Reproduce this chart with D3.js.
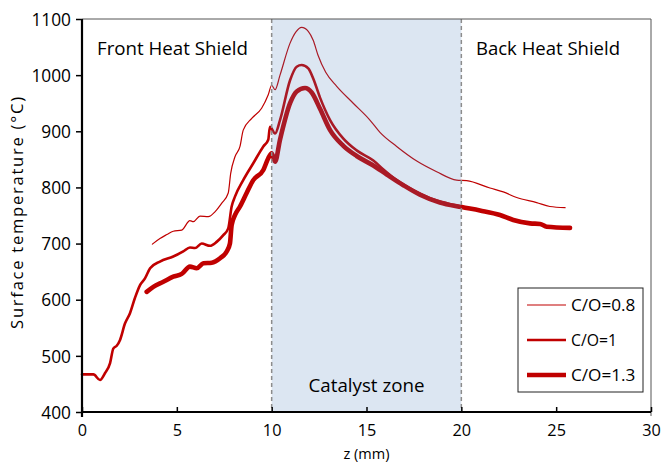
<!DOCTYPE html>
<html><head><meta charset="utf-8">
<script src="https://cdn.jsdelivr.net/npm/d3@7"></script>
<style>body{margin:0;background:#fff}svg{display:block}text{font-family:"Open Sans",Lato,sans-serif;fill:#000}</style>
</head><body><svg id="c" width="661" height="463"></svg>
<script>
const seriesNames = ["C/O=0.8", "C/O=1", "C/O=1.3"];
const s08z = [3.71,4.11,4.47,4.81,5.26,5.69,5.87,6.22,6.66,7.02,7.37,7.71,7.84,8.07,8.33,8.50,8.95,9.47,9.82,10.0,10.18,10.44,10.97,11.28,11.58,11.93,12.19,12.45,12.85,13.43,14.30,15.18,15.71,16.59,17.65,18.70,19.75,20.28,21.51,22.21,22.92,23.97,24.67,25.47];
const s08T = [699,709,716,722,724,741,739,749,748,757,772,790,825,855,873,902,923,941,965,982,974,1000,1057,1077,1085,1078,1062,1035,1005,980,950,920,898,873,847,828,813,812,799,792,782,773,766,764];
const s10z = [0,0.6,0.95,1.21,1.48,1.65,1.83,2.0,2.27,2.53,2.79,3.06,3.32,3.59,4.11,4.81,5.34,5.69,5.96,6.31,6.75,7.10,7.45,7.71,7.89,8.07,8.50,9.03,9.56,9.82,9.91,10.18,10.44,10.97,11.32,11.58,11.93,12.19,12.55,13.08,13.78,14.48,15.36,15.89,16.59,17.47,18.35,19.23,20.02];
const s10T = [467,467,457,469,487,513,518,528,558,576,603,626,638,656,668,677,686,693,692,700,696,703,715,727,766,784,813,843,873,885,908,896,920,991,1015,1018,1012,994,960,920,887,866,848,832,813,795,781,772,766];
const s13z = [3.41,3.76,4.29,4.81,5.26,5.69,6.05,6.40,6.84,7.28,7.63,7.80,7.89,8.07,8.33,8.68,9.03,9.56,9.82,10.0,10.18,10.44,10.97,11.32,11.76,12.11,12.55,13.08,13.78,14.48,15.36,16.07,16.94,17.82,18.87,20.02,20.98,22.04,22.74,23.62,24.15,24.5,25.73];
const s13T = [614,623,632,641,646,659,656,665,666,674,686,700,733,751,766,790,813,831,852,861,846,885,950,971,977,969,940,902,874,856,839,823,804,787,773,765,759,751,742,736,735,730,728];
const xTicks = [0,5,10,15,20,25,30];
const yTicks = [400,500,600,700,800,900,1000,1100];
const zoneLabels = ["Front Heat Shield","Back Heat Shield","Catalyst zone"];
const catalystZone = [10,20];

const svg = d3.select("#c");
const L=82,R=651,T=19,B=412;
const x = d3.scaleLinear().domain([0,30]).range([L,R]);
const y = d3.scaleLinear().domain([400,1100]).range([B,T]);
const red = "#c00000";
function fit(sel, target){
  const base = 16; sel.style("font-size", base+"px");
  const w = sel.node().getComputedTextLength();
  sel.style("font-size", (base*target/w).toFixed(2)+"px");
  return sel;
}
function spread(sel, size, target){
  sel.style("font-size", size+"px");
  const w = sel.node().getComputedTextLength();
  const n = sel.text().length;
  sel.style("letter-spacing", ((target-w)/(n-1)).toFixed(2)+"px");
  return sel;
}
const series = [
  {name:seriesNames[0], z:s08z, t:s08T, w:1.2},
  {name:seriesNames[1], z:s10z, t:s10T, w:2.6},
  {name:seriesNames[2], z:s13z, t:s13T, w:4.6}
];
const line = d3.line().x(d=>x(d[0])).y(d=>y(d[1])).curve(d3.curveMonotoneX);
series.forEach(s=>{
  svg.append("path").datum(s.z.map((v,i)=>[v,s.t[i]]))
    .attr("d",line).attr("fill","none").attr("stroke",red)
    .attr("stroke-width",s.w).attr("stroke-linejoin","round").attr("stroke-linecap","round");
});
svg.append("rect").attr("x",x(catalystZone[0])).attr("y",T)
  .attr("width",x(catalystZone[1])-x(catalystZone[0])).attr("height",B-T)
  .attr("fill","#4f81bd").attr("fill-opacity",0.2);
catalystZone.forEach(v=>{
  svg.append("line").attr("x1",x(v)).attr("x2",x(v)).attr("y1",T).attr("y2",B)
    .attr("stroke","#8c8c8c").attr("stroke-width",1.5).attr("stroke-dasharray","4,3");
});
svg.append("line").attr("x1",L).attr("x2",R).attr("y1",T).attr("y2",T).attr("stroke","#555").attr("stroke-width",1);
svg.append("line").attr("x1",R).attr("x2",R).attr("y1",T).attr("y2",B+4).attr("stroke","#555").attr("stroke-width",1);
const yAx = svg.append("g").attr("transform",`translate(${L},0)`)
  .call(d3.axisLeft(y).tickValues(yTicks).tickFormat(d3.format("d")).tickSize(6).tickPadding(5));
yAx.select(".domain").remove();
yAx.selectAll(".tick line").attr("stroke","#000").attr("stroke-width",1.5);
yAx.selectAll("text").attr("fill","#000").attr("dy","0.36em").each(function(d){ fit(d3.select(this), String(d).length*9.9); });
const xAx = svg.append("g").attr("transform",`translate(0,${B})`)
  .call(d3.axisBottom(x).tickValues(xTicks).tickSize(-5).tickPadding(12));
xAx.select(".domain").remove();
xAx.selectAll(".tick line").attr("stroke","#000").attr("stroke-width",1.5);
xAx.selectAll("text").attr("fill","#000").each(function(d){ fit(d3.select(this), String(d).length*9.3); });
svg.append("line").attr("x1",L).attr("x2",L).attr("y1",T).attr("y2",B+5).attr("stroke","#000").attr("stroke-width",2.2);
svg.append("line").attr("x1",L-1).attr("x2",R).attr("y1",B).attr("y2",B).attr("stroke","#000").attr("stroke-width",2.2);
spread(svg.append("text").attr("transform",`translate(23,${212}) rotate(-90)`).attr("text-anchor","middle")
  .text("Surface temperature (°C)"), 16.5, 232);
svg.append("text").attr("x",x(15)).attr("y",459).attr("text-anchor","middle").style("font-size","14.5px").text("z (mm)");
fit(svg.append("text").attr("x",97).attr("y",55).text(zoneLabels[0]), 151);
fit(svg.append("text").attr("x",476).attr("y",55).text(zoneLabels[1]), 144);
fit(svg.append("text").attr("x",x(15)).attr("y",392).attr("text-anchor","middle").text(zoneLabels[2]), 116);
const lg = svg.append("g");
lg.append("rect").attr("x",518).attr("y",288).attr("width",125).attr("height",104).attr("fill","#fff").attr("stroke","#222").attr("stroke-width",1);
series.forEach((s,i)=>{
  const yy = 305 + i*35;
  lg.append("line").attr("x1",527).attr("x2",566).attr("y1",yy).attr("y2",yy).attr("stroke",red).attr("stroke-width",s.w);
  fit(lg.append("text").attr("x",571).attr("y",yy+6).text(s.name), s.name.length*9.2);
});
</script></body></html>
